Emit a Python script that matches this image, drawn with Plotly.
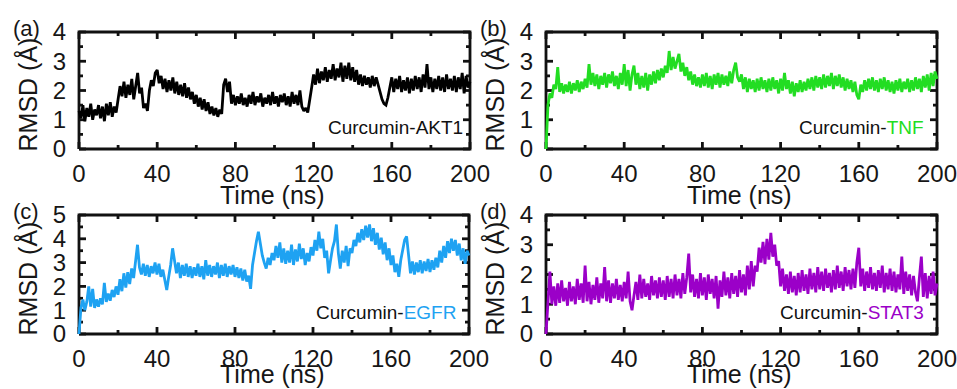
import plotly.graph_objects as go

W, H = 957, 389

time_ns = list(range(0, 201))

rmsd_akt1 = [
    1.30, 1.05, 1.50, 0.95, 1.40, 1.10, 1.55, 1.00, 1.35, 1.15,
    1.50, 1.05, 1.45, 0.95, 1.55, 1.15, 1.60, 1.10, 1.45, 1.25,
    1.70, 2.15, 1.80, 2.30, 1.75, 2.20, 1.85, 2.40, 1.70, 2.25,
    2.60, 1.90, 2.10, 1.40, 1.55, 1.30, 2.00, 2.35, 2.15, 2.60,
    2.70, 2.25, 2.50, 2.05, 2.40, 1.95, 2.35, 2.00, 2.45, 1.90,
    2.30, 1.85, 2.20, 1.80, 2.25, 1.75, 2.10, 1.70, 1.95, 1.55,
    1.85, 1.45, 1.75, 1.35, 1.70, 1.30, 1.60, 1.20, 1.45, 1.15,
    1.40, 1.10, 1.35, 1.20, 2.20, 2.40, 1.95, 2.30, 1.55, 1.85,
    1.50, 1.80, 1.55, 1.90, 1.50, 1.75, 1.45, 1.85, 1.55, 1.95,
    1.50, 1.80, 1.60, 1.90, 1.45, 1.75, 1.55, 1.85, 1.50, 1.95,
    1.55, 1.80, 1.45, 1.85, 1.60, 1.90, 1.50, 1.80, 1.45, 1.95,
    1.55, 1.85, 1.50, 2.00, 1.45, 1.30, 1.40, 1.25, 1.75, 2.10,
    2.55, 2.20, 2.75, 2.25, 2.65, 2.35, 2.80, 2.30, 2.70, 2.40,
    2.90, 2.35, 2.75, 2.45, 2.95, 2.30, 2.85, 2.40, 2.95, 2.35,
    2.80, 2.30, 2.70, 2.20, 2.55, 2.15, 2.50, 2.20, 2.45, 2.10,
    2.50, 2.15, 2.45, 2.20, 2.00, 1.70, 1.55, 1.50, 1.75, 2.10,
    2.45, 1.95, 2.40, 2.05, 2.50, 1.95, 2.35, 2.00, 2.45, 1.90,
    2.40, 2.00, 2.50, 2.05, 2.45, 1.95, 2.55, 2.10, 2.90, 2.05,
    2.45, 1.95, 2.40, 2.05, 2.50, 2.00, 2.45, 1.95, 2.55, 2.05,
    2.40, 2.00, 2.50, 1.95, 2.45, 2.05, 2.60, 1.90, 2.50, 2.10,
    2.30,
]

rmsd_tnf = [
    0.00, 1.50, 1.90, 1.75, 2.20, 2.05, 2.80, 1.95, 2.25, 1.90,
    2.20, 1.95, 2.30, 1.90, 2.25, 2.00, 2.35, 1.95, 2.30, 2.05,
    2.40, 2.10, 2.90, 2.20, 2.60, 2.15, 2.55, 2.05, 2.50, 2.20,
    2.60, 2.10, 2.55, 2.25, 2.65, 2.15, 2.50, 2.05, 2.60, 2.20,
    2.90, 2.15, 2.70, 2.00, 2.55, 2.85, 2.20, 2.60, 2.05, 2.50,
    2.10, 2.60, 2.00, 2.55, 2.20, 2.65, 2.25, 2.70, 2.35, 2.75,
    2.45, 2.85, 2.60, 3.35, 2.70, 3.15, 2.75, 3.00, 3.25, 2.65,
    2.95, 2.50, 2.80, 2.35, 2.65, 2.20, 2.55, 2.15, 2.45, 2.10,
    2.55, 2.15, 2.60, 2.10, 2.50, 2.05, 2.55, 2.20, 2.60, 2.10,
    2.55, 2.20, 2.50, 2.15, 2.65, 2.25, 2.70, 2.95, 2.45, 2.30,
    2.55, 2.05, 2.45, 1.95, 2.40, 2.05, 2.35, 1.95, 2.40, 2.00,
    2.45, 2.05, 2.35, 1.95, 2.40, 2.00, 2.45, 2.05, 2.35, 1.90,
    2.40, 2.00, 2.60, 2.05, 2.35, 1.90, 2.30, 1.80, 2.25, 1.95,
    2.35, 1.95, 2.30, 2.00, 2.40, 2.05, 2.45, 2.00, 2.50, 2.10,
    2.45, 2.05, 2.55, 2.10, 2.50, 2.15, 2.60, 2.05, 2.50, 2.15,
    2.55, 2.10, 2.45, 2.00, 2.40, 2.05, 2.35, 1.95, 2.30, 1.85,
    1.70, 2.20, 1.95, 2.35, 2.00, 2.40, 2.05, 2.45, 2.00, 2.35,
    1.95, 2.40, 2.05, 2.45, 2.00, 2.35, 1.95, 2.30, 1.90, 2.35,
    2.00, 2.40, 1.95, 2.30, 2.05, 2.40, 1.95, 2.35, 2.00, 2.45,
    2.05, 2.40, 1.95, 2.50, 2.10, 2.55, 2.00, 2.60, 2.15, 2.65,
    2.40,
]

rmsd_egfr = [
    0.00, 1.10, 1.45, 1.00, 1.35, 2.00, 1.15, 1.90, 1.10, 1.45,
    1.15, 1.50, 1.25, 2.15, 1.35, 1.70, 1.40, 1.85, 1.55, 2.00,
    1.65, 2.30, 1.80, 2.55, 1.95, 2.60, 2.10, 2.75, 2.35, 3.20,
    3.75, 2.80, 2.50, 2.95, 2.45, 2.90, 2.40, 2.85, 2.55, 3.00,
    2.50, 2.95, 2.40, 2.70, 2.20, 1.85, 2.40, 2.90, 3.60, 3.10,
    2.55, 3.00, 2.35, 2.90, 2.45, 2.95, 2.40, 2.85, 2.35, 2.80,
    2.45, 2.95, 2.40, 2.85, 2.30, 3.10, 2.45, 2.90, 2.40, 2.85,
    2.50, 3.00, 2.35, 2.90, 2.45, 2.95, 2.40, 2.85, 2.50, 2.90,
    2.40, 2.80, 2.35, 2.75, 2.25, 2.70, 2.20, 2.45, 1.90, 2.90,
    3.50, 3.90, 4.30, 3.80, 3.30, 3.00, 2.75, 3.20, 2.90, 3.40,
    3.10, 3.70, 3.20, 3.85, 3.00, 3.60, 2.95, 3.50, 3.00, 3.75,
    2.90, 3.55, 3.05, 3.80, 3.15, 3.60, 2.90, 3.40, 3.05, 3.65,
    3.30, 3.95, 3.50, 4.30, 3.60, 4.00, 3.20, 3.50, 2.55, 3.10,
    3.60, 3.90, 4.60, 3.40, 2.75, 3.50, 3.00, 3.70, 2.85, 3.60,
    3.40, 3.95, 3.70, 4.25, 3.85, 4.40, 3.95, 4.55, 4.05, 4.60,
    3.90, 4.45, 3.75, 4.25, 3.55, 4.05, 3.35, 3.85, 3.10, 3.60,
    2.90, 3.30, 2.60, 2.95, 2.40, 3.10, 3.60, 3.95, 4.10, 3.30,
    2.55, 3.05, 2.50, 3.00, 2.60, 3.10, 2.55, 3.05, 2.65, 3.15,
    2.60, 3.10, 2.70, 3.20, 2.80, 3.50, 3.00, 3.70, 3.20, 3.90,
    3.40, 4.00, 3.50, 3.95, 3.30, 3.80, 3.10, 3.60, 2.95, 3.50,
    3.30,
]

rmsd_stat3 = [
    0.00, 1.30, 2.10, 1.00, 1.60, 0.95, 1.70, 1.05, 1.80, 1.10,
    1.55, 0.95, 1.75, 1.10, 1.60, 1.00, 1.85, 1.15, 1.70, 1.05,
    2.30, 1.10, 1.75, 1.00, 1.65, 1.15, 1.90, 1.05, 1.70, 1.20,
    2.25, 1.10, 1.80, 1.05, 1.70, 1.20, 1.85, 1.15, 1.65, 1.10,
    1.75, 1.20, 2.10, 1.10, 0.80, 1.30, 1.75, 1.15, 2.00, 1.20,
    1.85, 1.25, 1.70, 1.15, 1.95, 1.30, 1.80, 1.20, 1.90, 1.25,
    1.80, 1.15, 1.95, 1.25, 1.85, 1.20, 2.00, 1.30, 1.85, 1.20,
    2.05, 1.35, 1.90, 2.70, 1.40, 2.00, 1.25, 1.85, 1.20, 2.05,
    1.30, 1.90, 1.15, 2.00, 1.35, 1.85, 1.20, 1.95, 0.85, 1.80,
    1.25, 2.10, 1.30, 1.90, 1.20, 2.05, 1.35, 1.95, 1.25, 2.15,
    1.40, 2.00, 1.30, 2.30, 1.50, 2.45, 1.60, 2.30, 2.10, 2.90,
    2.40, 3.10, 2.35, 3.20, 2.50, 3.40, 2.60, 3.00, 2.30, 2.45,
    1.60, 2.20, 1.45, 2.00, 1.35, 2.10, 1.40, 1.95, 1.30, 2.05,
    1.40, 2.15, 1.45, 2.00, 1.35, 2.20, 1.50, 2.05, 1.40, 2.25,
    1.50, 2.10, 1.45, 2.20, 1.55, 2.05, 1.40, 2.15, 1.50, 2.30,
    1.55, 2.10, 1.45, 2.25, 1.60, 2.15, 1.50, 2.20, 1.55, 2.40,
    2.90, 1.60, 2.20, 1.45, 2.10, 1.55, 2.25, 1.50, 2.05, 1.45,
    2.15, 1.55, 2.30, 1.40, 2.05, 1.50, 2.20, 1.45, 2.10, 1.40,
    2.00, 1.50, 2.60, 1.35, 2.10, 1.45, 2.00, 1.30, 1.95, 1.40,
    1.10, 1.90, 2.60, 1.25, 2.05, 1.20, 1.95, 1.35, 2.10, 1.30,
    1.70,
]

panel_tags = ["(a)", "(b)", "(c)", "(d)"]
protein_names = ["AKT1", "TNF", "EGFR", "STAT3"]
series_colors = ["#000000", "#22dd22", "#1ea2f2", "#9b00c8"]
name_colors = ["#111111", "#22dd22", "#1ea2f2", "#9b00c8"]
y_max = [4, 4, 5, 4]
x_max = 200
x_tick_vals = [0, 40, 80, 120, 160, 200]
x_minor_vals = [20, 60, 100, 140, 180]
y_tick_vals = [[0, 1, 2, 3, 4], [0, 1, 2, 3, 4], [0, 1, 2, 3, 4, 5], [0, 1, 2, 3, 4]]
y_minor_vals = [[0.5, 1.5, 2.5, 3.5], [0.5, 1.5, 2.5, 3.5],
                [0.5, 1.5, 2.5, 3.5, 4.5], [0.5, 1.5, 2.5, 3.5]]
series_list = [rmsd_akt1, rmsd_tnf, rmsd_egfr, rmsd_stat3]

FONT = "Liberation Sans, Arial, sans-serif"
TXT = "#161616"
FRAME = "#111111"
MAJOR_LEN, MINOR_LEN = 7, 4
PAD = 4  # px of room kept around the frame inside each subplot

# pixel layout of panel frames (left, right, top, bottom)
frames = [
    (79, 470, 32, 149),
    (546, 937, 32, 149),
    (79, 469, 215, 334),
    (546, 937, 215, 334),
]
time_title_offset = [46, 46, 40, 40]

fig = go.Figure()
annotations = []

def px(x):
    return x / W

def py(y):
    return 1 - y / H

for i in range(4):
    l, r, t, b = frames[i]
    ym = y_max[i]
    ux = x_max / (r - l)
    uy = ym / (b - t)
    xa = "x" if i == 0 else f"x{i+1}"
    ya = "y" if i == 0 else f"y{i+1}"
    xkey = "xaxis" if i == 0 else f"xaxis{i+1}"
    ykey = "yaxis" if i == 0 else f"yaxis{i+1}"
    fig.update_layout(**{
        xkey: dict(
            domain=[px(l - PAD), px(r + PAD)], anchor=ya,
            range=[-PAD * ux, x_max + PAD * ux], automargin=False,
            tickmode="array", tickvals=x_tick_vals, ticks="", showline=False,
            showgrid=False, zeroline=False, ticklabeloverflow="allow",
            tickfont=dict(family=FONT, size=24, color=TXT),
            ticklabelstandoff=4,
        ),
        ykey: dict(
            domain=[py(b + PAD), py(t - PAD)], anchor=xa,
            range=[-PAD * uy, ym + PAD * uy], automargin=False,
            tickmode="array", tickvals=y_tick_vals[i], ticks="", showline=False,
            showgrid=False, zeroline=False, ticklabeloverflow="allow",
            tickfont=dict(family=FONT, size=24, color=TXT),
            ticklabelstandoff=8,
        ),
    })

    # panel frame and inward ticks on all four sides, one polyline trace
    fx = [0, x_max, x_max, 0, 0, None]
    fy = [0, 0, ym, ym, 0, None]
    for vals, ln in ((x_tick_vals, MAJOR_LEN), (x_minor_vals, MINOR_LEN)):
        for v in vals:
            fx += [v, v, None, v, v, None]
            fy += [0, ln * uy, None, ym, ym - ln * uy, None]
    for vals, ln in ((y_tick_vals[i], MAJOR_LEN), (y_minor_vals[i], MINOR_LEN)):
        for v in vals:
            fx += [0, ln * ux, None, x_max, x_max - ln * ux, None]
            fy += [v, v, None, v, v, None]
    fig.add_trace(go.Scatter(
        x=fx, y=fy, mode="lines", connectgaps=False,
        line=dict(color=FRAME, width=2.8), xaxis=xa, yaxis=ya,
        showlegend=False, hoverinfo="skip", name=f"frame {panel_tags[i]}",
    ))

    fig.add_trace(go.Scatter(
        x=time_ns, y=series_list[i], mode="lines",
        line=dict(color=series_colors[i], width=2.8),
        xaxis=xa, yaxis=ya, showlegend=False, hoverinfo="skip",
        name=protein_names[i],
    ))

    # y-axis title
    annotations.append(dict(
        text="RMSD (Å)", x=px(l - 52), y=py((t + b) / 2 + 4), xref="paper", yref="paper",
        showarrow=False, textangle=-90, xanchor="center", yanchor="middle",
        font=dict(family=FONT, size=25, color=TXT),
    ))
    # x-axis title
    annotations.append(dict(
        text="Time (ns)", x=px((l + r) / 2 - 2), y=py(b + time_title_offset[i]),
        xref="paper", yref="paper",
        showarrow=False, xanchor="center", yanchor="middle",
        font=dict(family=FONT, size=25, color=TXT),
    ))
    # panel tag
    annotations.append(dict(
        text=panel_tags[i], x=px(l - 53), y=py(t - 4), xref="paper", yref="paper",
        showarrow=False, xanchor="center", yanchor="middle",
        font=dict(family=FONT, size=22, color=TXT),
    ))
    # name label
    annotations.append(dict(
        text=f"Curcumin-<span style='color:{name_colors[i]}'>{protein_names[i]}</span>",
        x=px(r - (5 if i == 0 else 11)), y=py(b - 22), xref="paper", yref="paper",
        showarrow=False, xanchor="right", yanchor="middle",
        font=dict(family=FONT, size=19, color="#111111"),
    ))

fig.update_layout(
    template="none",
    width=W, height=H, margin=dict(l=0, r=0, t=0, b=0, pad=0),
    paper_bgcolor="white", plot_bgcolor="white",
    annotations=annotations,
)

fig.write_html(
    "out.html",
    config={"displayModeBar": False},
    post_script="document.body.style.margin='0px';document.body.style.padding='0px';document.body.style.overflow='hidden';",
)
